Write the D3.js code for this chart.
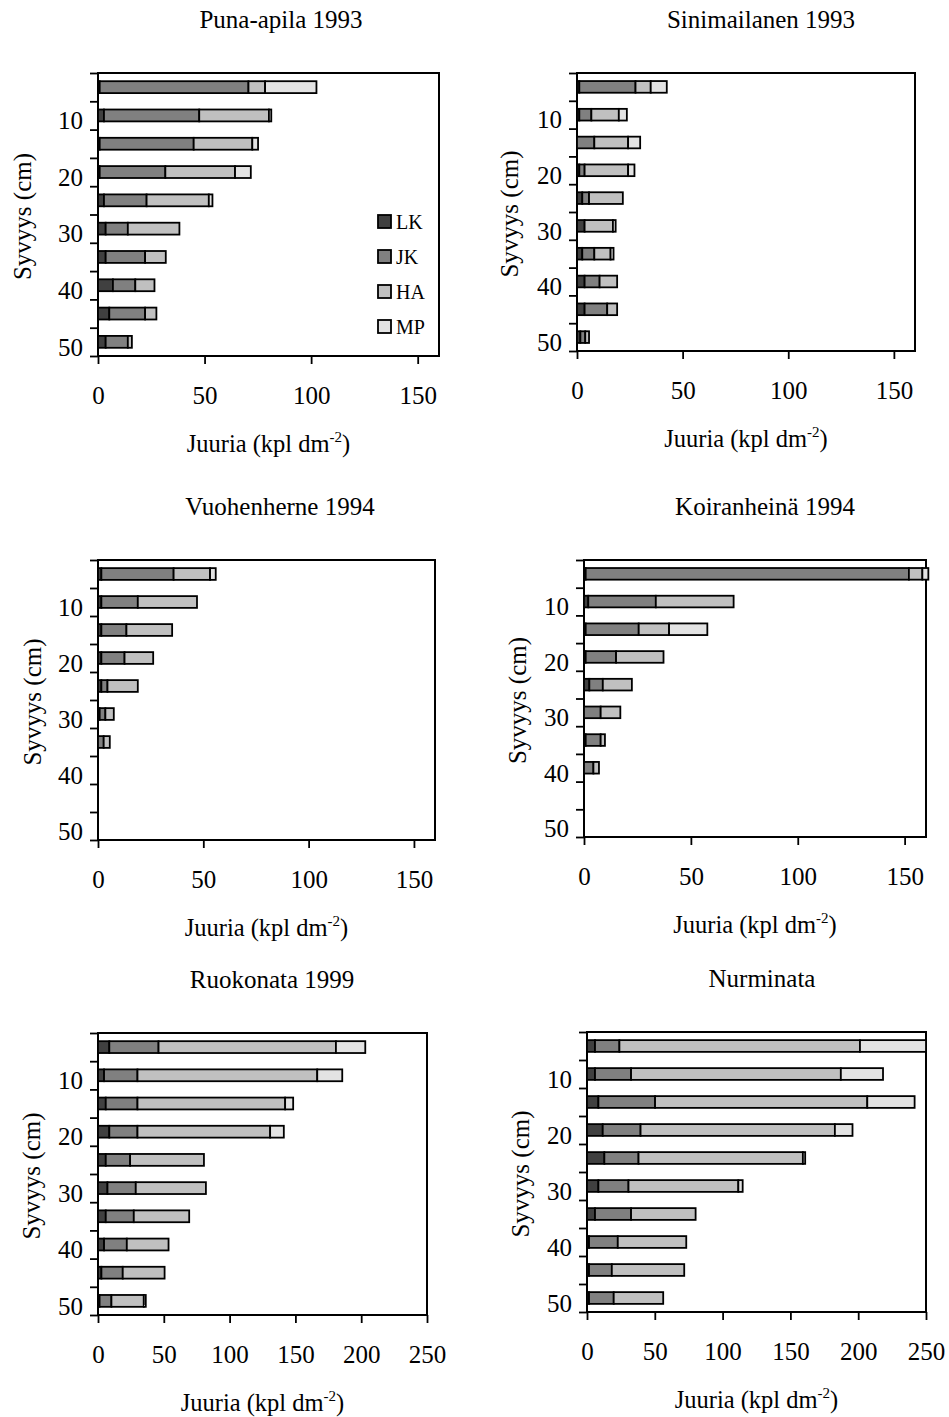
<!DOCTYPE html>
<meta charset="utf-8">
<script src="https://d3js.org/d3.v7.min.js"></script>
<style>
  body { margin: 0; background: #fff; }
  svg text { font-family: "Liberation Serif", "Times New Roman", serif; fill: #000; }
</style>
<div id="chart"></div>
<script>
// root classes and depth categories
const keys = ["LK", "JK", "HA", "MP"];
const depths = [5, 10, 15, 20, 25, 30, 35, 40, 45, 50];
const depthLabels = ["", "10", "", "20", "", "30", "", "40", "", "50"];
const colors = ["#404040", "#808080", "#c0c0c0", "#e3e3e3"];

// Puna-apila 1993
const punaLK = [0.8, 2.8, 0.8, 0.8, 2.8, 3.6, 3.6, 7.0, 5.3, 3.6];
const punaJK = [69.8, 44.7, 44.1, 30.8, 20.0, 10.4, 18.5, 10.5, 16.8, 10.4];
const punaHA = [7.8, 32.7, 27.5, 32.7, 29.2, 24.2, 9.7, 9.0, 5.3, 1.9];
const punaMP = [24.1, 1.1, 2.7, 7.4, 1.7, 0, 0, 0, 0, 0];

// Sinimailanen 1993
const siniLK = [1.1, 1.1, 0, 1.1, 2.5, 3.6, 2.5, 3.6, 3.6, 1.6];
const siniJK = [26.6, 5.7, 8.2, 2.5, 3.2, 0, 5.7, 7.1, 10.7, 2.3];
const siniHA = [7.2, 13.0, 16.0, 20.6, 16.0, 13.4, 7.7, 8.3, 4.7, 1.8];
const siniMP = [7.6, 3.8, 5.7, 3.0, 0, 1.3, 1.4, 0, 0, 0];

// Vuohenherne 1994
const vuohLK = [1.6, 1.6, 1.6, 1.6, 1.6, 0.8, 0, 0, 0, 0];
const vuohJK = [34.3, 17.3, 11.9, 11.0, 2.9, 2.7, 2.7, 0, 0, 0];
const vuohHA = [17.3, 28.1, 21.7, 13.6, 14.4, 4.0, 2.9, 0, 0, 0];
const vuohMP = [2.7, 0, 0, 0, 0, 0, 0, 0, 0, 0];

// Koiranheinä 1994
const koirLK = [0.8, 2.0, 0.8, 0.8, 2.5, 0, 0.8, 0, 0, 0];
const koirJK = [151.2, 31.6, 24.8, 14.2, 6.3, 7.8, 7.0, 4.4, 0, 0];
const koirHA = [6.3, 36.4, 14.2, 22.2, 13.6, 9.2, 2.0, 2.6, 0, 0];
const koirMP = [2.8, 0, 17.9, 0, 0, 0, 0, 0, 0, 0];

// Ruokonata 1999
const ruokLK = [8.6, 4.6, 5.9, 8.6, 5.9, 7.2, 5.9, 4.6, 2.6, 1.2];
const ruokJK = [37.4, 25.4, 24.1, 21.4, 18.5, 21.5, 21.3, 17.3, 16.2, 9.0];
const ruokHA = [134.8, 136.6, 112.2, 100.8, 56.1, 53.3, 42.1, 31.7, 31.8, 24.6];
const ruokMP = [22.3, 19.0, 6.1, 10.4, 0, 0, 0, 0, 0, 1.5];

// Nurminata
const nurmLK = [5.9, 5.9, 8.4, 11.6, 12.8, 8.4, 5.9, 1.5, 1.5, 1.5];
const nurmJK = [18.0, 26.6, 41.8, 27.9, 25.2, 22.2, 26.6, 21.2, 16.8, 18.2];
const nurmHA = [177.4, 154.7, 156.5, 143.3, 121.2, 81.0, 47.6, 50.5, 53.4, 36.5];
const nurmMP = [48.7, 31.1, 34.9, 13.0, 1.7, 3.2, 0, 0, 0, 0];

const ticks160 = [0, 50, 100, 150];
const ticks250 = [0, 50, 100, 150, 200, 250];

const panels = [
  {title: "Puna-apila 1993", data: [punaLK, punaJK, punaHA, punaMP], max: 160, ticks: ticks160,
   x0: 98, x1: 439, y0: 73, y1: 356, titleX: 281, ylabX: 22, legend: true},
  {title: "Sinimailanen 1993", data: [siniLK, siniJK, siniHA, siniMP], max: 160, ticks: ticks160,
   x0: 577, x1: 915, y0: 73, y1: 351, titleX: 761, ylabX: 509},
  {title: "Vuohenherne 1994", data: [vuohLK, vuohJK, vuohHA, vuohMP], max: 160, ticks: ticks160,
   x0: 98, x1: 435, y0: 560, y1: 840, titleX: 280, ylabX: 32},
  {title: "Koiranheinä 1994", data: [koirLK, koirJK, koirHA, koirMP], max: 160, ticks: ticks160,
   x0: 584, x1: 926, y0: 560, y1: 837, titleX: 765, ylabX: 517},
  {title: "Ruokonata 1999", data: [ruokLK, ruokJK, ruokHA, ruokMP], max: 250, ticks: ticks250,
   x0: 98, x1: 427, y0: 1033, y1: 1315, titleX: 272, ylabX: 31},
  {title: "Nurminata", data: [nurmLK, nurmJK, nurmHA, nurmMP], max: 250, ticks: ticks250,
   x0: 587, x1: 926, y0: 1032, y1: 1312, titleX: 762, ylabX: 520}
];

const svg = d3.select("#chart").append("svg")
  .attr("width", 949)
  .attr("height", 1417);

panels.forEach(p => {
  const rows = depths.map((d, i) => {
    const r = {depth: d};
    keys.forEach((k, j) => r[k] = p.data[j][i]);
    return r;
  });
  const stacked = d3.stack().keys(keys)(rows);

  const x = d3.scaleLinear().domain([0, p.max]).range([p.x0, p.x1]);
  const y = d3.scaleBand().domain(depths).range([p.y0, p.y1])
    .paddingInner(0.58).paddingOuter(0.29);
  const yEdge = d3.scaleLinear().domain([0, depths.length]).range([p.y0, p.y1]);

  const g = svg.append("g");

  // title
  g.append("text")
    .attr("x", p.titleX)
    .attr("y", p.y0 - 45)
    .attr("text-anchor", "middle")
    .style("font-size", "25px")
    .text(p.title);

  // frame
  g.append("rect")
    .attr("x", p.x0).attr("y", p.y0)
    .attr("width", p.x1 - p.x0).attr("height", p.y1 - p.y0)
    .attr("fill", "none").attr("stroke", "#000").attr("stroke-width", 2);

  // stacked bars
  g.append("g")
    .selectAll("g")
    .data(stacked)
    .join("g")
      .attr("fill", (d, i) => colors[i])
    .selectAll("rect")
    .data(d => d)
    .join("rect")
      .attr("x", d => x(d[0]))
      .attr("y", d => y(d.data.depth))
      .attr("width", d => x(d[1]) - x(d[0]))
      .attr("height", y.bandwidth())
      .attr("stroke", "#000")
      .attr("stroke-width", 1.8);

  // x axis
  const xa = g.append("g")
    .attr("transform", `translate(0,${p.y1})`)
    .call(d3.axisBottom(x).tickValues(p.ticks).tickSize(8));
  xa.select(".domain").remove();
  xa.selectAll("line").attr("stroke", "#000").attr("stroke-width", 1.8);
  xa.selectAll("text")
    .attr("y", 48).attr("dy", null)
    .style("font-size", "25px")
    .style("font-family", "'Liberation Serif', serif");

  // y axis: ticks on category edges, labels at category centres
  const ya = g.append("g")
    .attr("transform", `translate(${p.x0},0)`)
    .call(d3.axisLeft(yEdge).tickValues(d3.range(depths.length + 1)).tickSize(8).tickFormat(""));
  ya.select(".domain").remove();
  ya.selectAll("line").attr("stroke", "#000").attr("stroke-width", 1.8);

  const yl = g.append("g")
    .attr("transform", `translate(${p.x0},0)`)
    .call(d3.axisLeft(y).tickSize(0).tickPadding(15).tickFormat((d, i) => depthLabels[i]));
  yl.select(".domain").remove();
  yl.selectAll("text")
    .attr("dy", "0.55em")
    .style("font-size", "25px")
    .style("font-family", "'Liberation Serif', serif");

  // axis titles
  const xt = g.append("text")
    .attr("x", (p.x0 + p.x1) / 2)
    .attr("y", p.y1 + 96)
    .attr("text-anchor", "middle")
    .style("font-size", "24.5px");
  xt.append("tspan").text("Juuria (kpl dm");
  xt.append("tspan").attr("dy", -10).style("font-size", "15px").text("-2");
  xt.append("tspan").attr("dy", 10).text(")");

  g.append("text")
    .attr("transform", `translate(${p.ylabX},${(p.y0 + p.y1) / 2 + 2}) rotate(-90)`)
    .attr("text-anchor", "middle")
    .attr("dominant-baseline", "central")
    .style("font-size", "25px")
    .text("Syvyys (cm)");

  // legend
  if (p.legend) {
    const lg = g.append("g");
    keys.forEach((k, i) => {
      const cy = 222 + i * 35;
      lg.append("rect")
        .attr("x", 378).attr("y", cy - 7)
        .attr("width", 13).attr("height", 13)
        .attr("fill", colors[i]).attr("stroke", "#000").attr("stroke-width", 1.8);
      lg.append("text")
        .attr("x", 396).attr("y", cy + 7)
        .style("font-size", "20px")
        .text(k);
    });
  }
});
</script>
